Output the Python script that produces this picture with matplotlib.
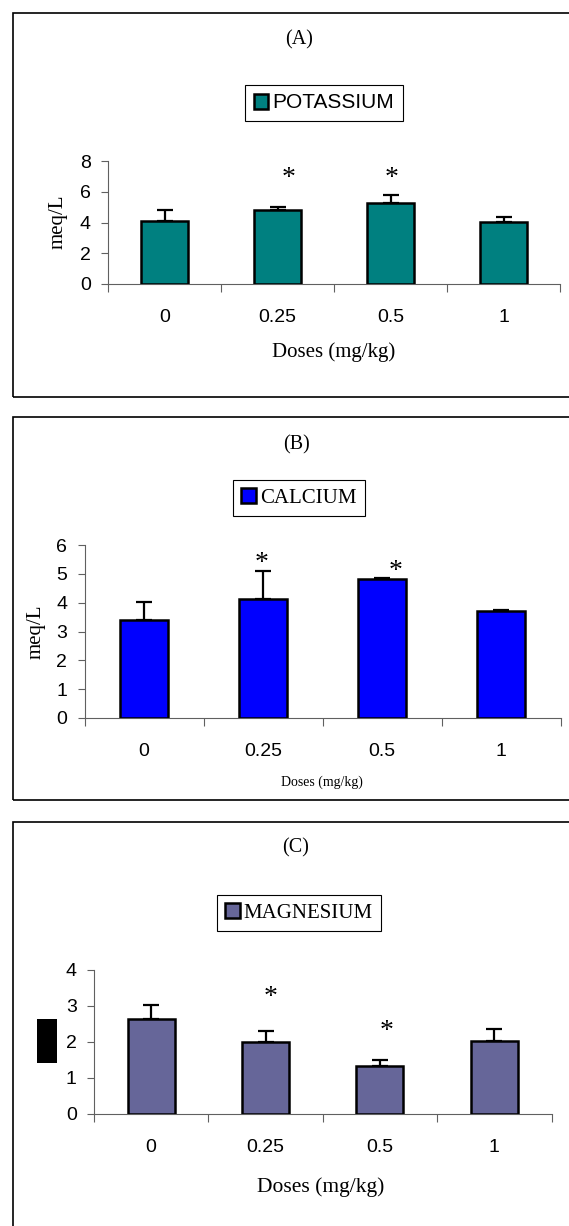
"""
Electrolitos séricos (K, Ca, Mg) por dosis — tres paneles apilados.
"""

import matplotlib
matplotlib.use("Agg")
import matplotlib.pyplot as plt
import matplotlib.patches as mpatches
import matplotlib.transforms as mtrans
import numpy as np

W, H = 569, 1226

# ── Datos ────────────────────────────────────────────────────────────────────
doses = ["0", "0.25", "0.5", "1"]

potassium     = [4.10, 4.81, 5.30, 4.03]
potassium_err = [0.73, 0.21, 0.46, 0.33]

calcium     = [3.40, 4.12, 4.81, 3.72]
calcium_err = [0.62, 0.98, 0.03, 0.04]

magnesium     = [2.64, 1.99, 1.32, 2.04]
magnesium_err = [0.39, 0.32, 0.17, 0.32]

# asteriscos de significancia: (índice de dosis, altura en unidades de datos)
stars_k  = [(1, 7.16), (2, 7.16)]
stars_ca = [(1, 5.54), (2, 5.25)]
stars_mg = [(1, 3.38), (2, 2.43)]

SERIF = "Liberation Serif"
SANS = "Liberation Sans"
AXIS_C = "#606060"


def px(x, y):
    """pixel (desde arriba-izquierda) -> fracción de figura"""
    return x / W, 1 - y / H


def make_panel(fig, box, values, errs, color, ymax, label, legend_font,
               legend_xy, title, title_xy, xlabel_xy, xlabel_size,
               stars, star_dx, ylabel_xy=None):
    l, t, r, b = box
    x0, y0 = px(l, b)
    x1, y1 = px(r, t)
    ax = fig.add_axes([x0, y0, x1 - x0, y1 - y0])

    x = np.arange(len(values))
    bars = ax.bar(x, values, width=0.41, color=color, edgecolor="black",
                  linewidth=1.8, zorder=3, label=label)
    ax.errorbar(x, values, yerr=[np.zeros(len(errs)), errs], fmt="none",
                ecolor="black", elinewidth=1.6, capsize=5.5, capthick=1.6,
                zorder=2)

    ax.set_xlim(-0.5, len(values) - 0.5)
    ax.set_ylim(0, ymax)
    ax.set_yticks(np.arange(0, ymax + 1, 1 if ymax <= 6 else 2))
    ax.set_xticks(np.arange(-0.5, len(values)))
    ax.set_xticklabels([])
    ax.set_xticks(x, minor=True)
    ax.set_xticklabels(doses, minor=True)
    ax.tick_params(axis="x", which="major", direction="out", length=6,
                   width=0.8, color=AXIS_C)
    ax.tick_params(axis="x", which="minor", length=0, pad=18,
                   labelsize=14)
    ax.tick_params(axis="y", direction="out", length=5, width=0.8,
                   labelsize=14, pad=7.5, color=AXIS_C)
    for lbl in ax.get_xticklabels(minor=True) + ax.get_yticklabels():
        lbl.set_fontfamily(SANS)
    for side in ("top", "right"):
        ax.spines[side].set_visible(False)
    for side in ("left", "bottom"):
        ax.spines[side].set_linewidth(0.8)
        ax.spines[side].set_color(AXIS_C)
    ax.set_facecolor("none")

    star_tr = mtrans.offset_copy(ax.transData, fig=fig, y=-5, units="dots")
    for (i, yv), dx in zip(stars, star_dx):
        ax.text(i + dx, yv, "*", ha="center", va="center", fontsize=20,
                family=SERIF, transform=star_tr)

    leg = ax.legend(handles=[bars], loc="center",
                    bbox_to_anchor=px(*legend_xy),
                    bbox_transform=fig.transFigure,
                    prop={"family": legend_font, "size": 15},
                    fancybox=False, framealpha=1, edgecolor="black",
                    handlelength=0.7, handleheight=0.75, handletextpad=0.2,
                    borderpad=0.4, borderaxespad=0)
    leg.get_frame().set_linewidth(0.8)

    fig.text(*px(*title_xy), title, ha="center", va="center",
             fontsize=14.5, family=SERIF)
    fig.text(*px(*xlabel_xy), "Doses (mg/kg)", ha="center", va="center",
             fontsize=xlabel_size, family=SERIF)
    if ylabel_xy is not None:
        fig.text(*px(*ylabel_xy), "meq/L", ha="center", va="center",
                 rotation=90, fontsize=15, family=SERIF)
    return ax


fig = plt.figure(figsize=(W / 100, H / 100), dpi=100)
fig.patch.set_facecolor("white")

# marcos de cada panel (el borde derecho queda fuera de la imagen)
for top, bottom in [(13, 397), (417, 800), (822, 1240)]:
    fx, fy = px(13, bottom)
    fw = (600 - 13) / W
    fh = (bottom - top) / H
    fig.add_artist(mpatches.Rectangle((fx, fy), fw, fh,
                                      transform=fig.transFigure,
                                      fill=False, edgecolor="black",
                                      linewidth=1.2))

# (A) Potasio
make_panel(fig, (108, 161, 560, 284), potassium, potassium_err, "#008080",
           8, "POTASSIUM", SANS, (324, 103), "(A)", (299, 40), (334, 352),
           15, stars_k, [0.10, 0.01], ylabel_xy=(58, 222))

# (B) Calcio
make_panel(fig, (84.5, 545, 560.5, 718), calcium, calcium_err, "#0000FF",
           6, "CALCIUM", SERIF, (299, 498), "(B)", (296, 445), (322, 782),
           10, stars_ca, [-0.01, 0.11], ylabel_xy=(36, 632))

# (C) Magnesio — etiqueta del eje tapada por un bloque negro
make_panel(fig, (94, 970, 551.5, 1114), magnesium, magnesium_err, "#666699",
           4, "MAGNESIUM", SERIF, (299, 913), "(C)", (296, 848), (321, 1187),
           15.5, stars_mg, [0.04, 0.06])
bx, by = px(37, 1063)
fig.add_artist(mpatches.Rectangle((bx, by), 20 / W, 44 / H,
                                  transform=fig.transFigure,
                                  facecolor="black", edgecolor="none"))

fig.savefig("out.png", dpi=100)
